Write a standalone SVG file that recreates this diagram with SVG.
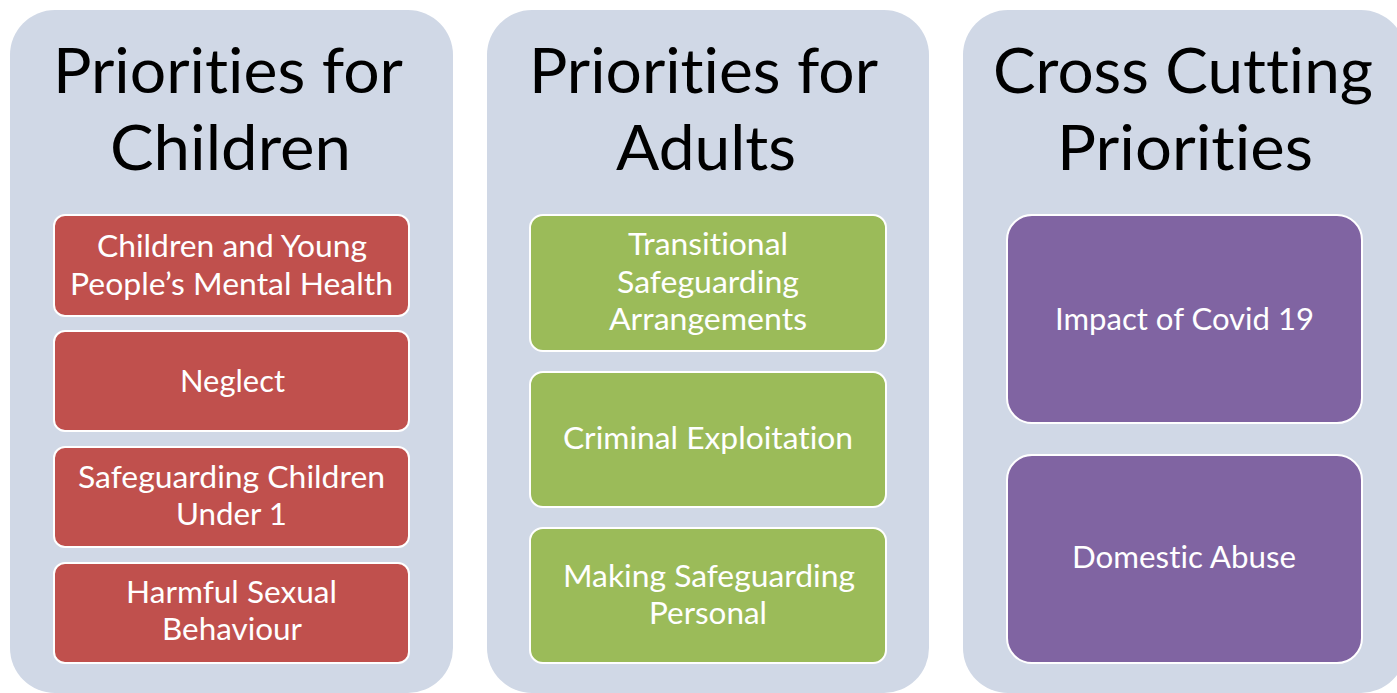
<svg xmlns="http://www.w3.org/2000/svg" width="1397" height="693" viewBox="0 0 1397 693">
  <style>
    text { font-variant-ligatures: none; font-feature-settings: "liga" 0, "clig" 0, "dlig" 0; }
    .panel { fill: #D0D8E6; }
    .title { font-family: Lato, "Open Sans", "Liberation Sans", sans-serif; font-size: 61px; fill: #000000; }
    .item { stroke: #FFFFFF; stroke-width: 2; }
    .red { fill: #C0504D; }
    .green { fill: #9BBB59; }
    .purple { fill: #8064A2; }
    .label { font-family: Lato, "Open Sans", "Liberation Sans", sans-serif; font-size: 30px; fill: #FFFFFF; }
  </style>
  <rect width="1397" height="693" fill="#FFFFFF"/>

  <!-- Column 1: children -->
  <g id="col-children">
    <rect class="panel" x="10" y="10" width="443" height="683" rx="45"/>
    <text class="title" x="53" y="93" textLength="350" lengthAdjust="spacingAndGlyphs">Priorities for</text>
    <text class="title" x="110" y="170" textLength="241" lengthAdjust="spacingAndGlyphs">Children</text>
  </g>
  <g id="node-mental-health">
    <rect class="item red" x="54" y="215" width="355" height="101" rx="11"/>
    <text class="label" x="97" y="257" textLength="270" lengthAdjust="spacingAndGlyphs">Children and Young</text>
    <text class="label" x="70" y="295" textLength="323" lengthAdjust="spacingAndGlyphs">People’s Mental Health</text>
  </g>
  <g id="node-neglect">
    <rect class="item red" x="54" y="331" width="355" height="100" rx="11"/>
    <text class="label" x="180" y="392" textLength="105" lengthAdjust="spacingAndGlyphs">Neglect</text>
  </g>
  <g id="node-under-1">
    <rect class="item red" x="54" y="447" width="355" height="100" rx="11"/>
    <text class="label" x="78" y="488" textLength="307" lengthAdjust="spacingAndGlyphs">Safeguarding Children</text>
    <text class="label" x="176" y="525" textLength="111" lengthAdjust="spacingAndGlyphs">Under 1</text>
  </g>
  <g id="node-hsb">
    <rect class="item red" x="54" y="563" width="355" height="100" rx="11"/>
    <text class="label" x="126" y="603" textLength="211" lengthAdjust="spacingAndGlyphs">Harmful Sexual</text>
    <text class="label" x="162" y="640" textLength="140" lengthAdjust="spacingAndGlyphs">Behaviour</text>
  </g>

  <!-- Column 2: adults -->
  <g id="col-adults">
    <rect class="panel" x="487" y="10" width="442" height="683" rx="45"/>
    <text class="title" x="529" y="93" textLength="349" lengthAdjust="spacingAndGlyphs">Priorities for</text>
    <text class="title" x="616" y="170" textLength="180" lengthAdjust="spacingAndGlyphs">Adults</text>
  </g>
  <g id="node-transitional">
    <rect class="item green" x="530" y="215" width="356" height="136" rx="13"/>
    <text class="label" x="628" y="255" textLength="160" lengthAdjust="spacingAndGlyphs">Transitional</text>
    <text class="label" x="617" y="293" textLength="182" lengthAdjust="spacingAndGlyphs">Safeguarding</text>
    <text class="label" x="609" y="330" textLength="198" lengthAdjust="spacingAndGlyphs">Arrangements</text>
  </g>
  <g id="node-criminal">
    <rect class="item green" x="530" y="372" width="356" height="135" rx="13"/>
    <text class="label" x="563" y="449" textLength="290" lengthAdjust="spacingAndGlyphs">Criminal Exploitation</text>
  </g>
  <g id="node-msp">
    <rect class="item green" x="530" y="528" width="356" height="135" rx="13"/>
    <text class="label" x="563" y="587" textLength="292" lengthAdjust="spacingAndGlyphs">Making Safeguarding</text>
    <text class="label" x="649" y="624" textLength="118" lengthAdjust="spacingAndGlyphs">Personal</text>
  </g>

  <!-- Column 3: cross cutting -->
  <g id="col-cross">
    <rect class="panel" x="963" y="10" width="443" height="683" rx="45"/>
    <text class="title" x="993" y="93" textLength="380" lengthAdjust="spacingAndGlyphs">Cross Cutting</text>
    <text class="title" x="1057" y="170" textLength="256" lengthAdjust="spacingAndGlyphs">Priorities</text>
  </g>
  <g id="node-covid">
    <rect class="item purple" x="1007" y="215" width="355" height="208" rx="25"/>
    <text class="label" x="1055" y="330" textLength="259" lengthAdjust="spacingAndGlyphs">Impact of Covid 19</text>
  </g>
  <g id="node-domestic">
    <rect class="item purple" x="1007" y="455" width="355" height="208" rx="25"/>
    <text class="label" x="1072" y="568" textLength="224" lengthAdjust="spacingAndGlyphs">Domestic Abuse</text>
  </g>

  <g id="connectors"/>
</svg>
